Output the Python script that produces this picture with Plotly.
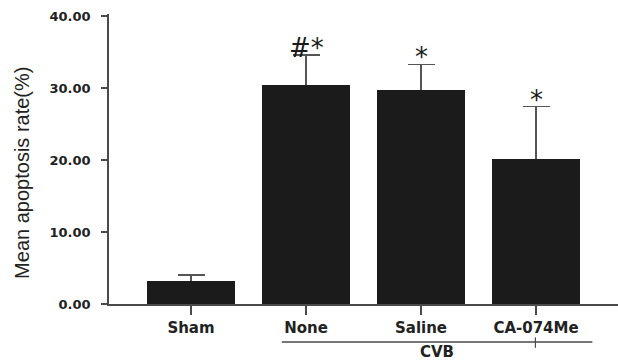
import plotly.graph_objects as go

# Group labels and measurements
categories = ["Sham", "None", "Saline", "CA-074Me"]
mean_rate = [3.2, 30.4, 29.7, 20.1]
sem_rate = [0.8, 4.2, 3.6, 7.3]
sig_marks = ["", "#*", "*", "*"]
y_ticks = [0, 10, 20, 30, 40]
y_tick_text = ["0.00", "10.00", "20.00", "30.00", "40.00"]

x_pos = list(range(len(categories)))
axis_col = "#4a4a4a"
bar_col = "#1b1b1b"

fig = go.Figure()
# Error bars first; the solid bars drawn over them hide the lower half
fig.add_trace(go.Bar(
    x=x_pos, y=mean_rate, width=0.757,
    marker=dict(color="rgba(0,0,0,0)", line=dict(width=0)),
    error_y=dict(type="data", array=sem_rate,
                 color="#555555", thickness=1.5, width=13.5),
    showlegend=False, hoverinfo="skip",
))
fig.add_trace(go.Bar(
    x=x_pos, y=mean_rate, width=0.757,
    marker=dict(color=bar_col, line=dict(width=0)),
    showlegend=False,
))

# Significance marks above error bars
for xi, m, s, mark in zip(x_pos, mean_rate, sem_rate, sig_marks):
    if mark:
        fig.add_annotation(x=xi, y=m + s, text=mark, showarrow=False,
                           xref="x", yref="y", yanchor="bottom", yshift=-10,
                           font=dict(family="DejaVu Sans", size=26, color=bar_col))

# CVB group bracket under the treated groups
fig.add_shape(type="line", xref="x", yref="paper", x0=0.79, x1=3.49,
              y0=-0.131, y1=-0.131, line=dict(color=axis_col, width=1.5))
fig.add_shape(type="line", xref="x", yref="paper", x0=2.995, x1=2.995,
              y0=-0.115, y1=-0.151, line=dict(color=axis_col, width=1.2))
fig.add_annotation(x=2.14, y=-0.165, xref="x", yref="paper", text="<b>CVB</b>",
                   showarrow=False, yanchor="middle",
                   font=dict(family="DejaVu Sans", size=15, color="#222222"))

# Y-axis title
fig.add_annotation(x=-0.171, y=0.452, xref="paper", yref="paper",
                   text="Mean apoptosis rate(%)", textangle=-90, showarrow=False,
                   xanchor="center", yanchor="middle",
                   font=dict(family="Liberation Sans", size=20, color="#222222"))

fig.update_layout(
    width=618, height=360,
    margin=dict(l=109, r=0, t=14, b=56),
    paper_bgcolor="white", plot_bgcolor="white",
    barmode="overlay", bargap=0,
)
fig.update_xaxes(
    range=[-0.713, 3.713],
    tickvals=x_pos, ticktext=[f"<b>{c}</b>" for c in categories],
    tickfont=dict(family="DejaVu Sans", size=15, color="#222222"),
    showline=True, linecolor=axis_col, linewidth=1.5,
    ticks="outside", ticklen=9, tickwidth=1.5, tickcolor=axis_col,
    showgrid=False, zeroline=False,
)
fig.update_yaxes(
    range=[0, 40.28],
    tickvals=y_ticks, ticktext=[f"<b>{t}</b>" for t in y_tick_text],
    tickfont=dict(family="DejaVu Sans", size=13, color="#222222"),
    showline=True, linecolor=axis_col, linewidth=1.5,
    ticks="outside", ticklen=6, tickwidth=1.5, tickcolor=axis_col,
    ticklabelstandoff=8,
    showgrid=False, zeroline=False,
)

fig.write_html("out.html")
